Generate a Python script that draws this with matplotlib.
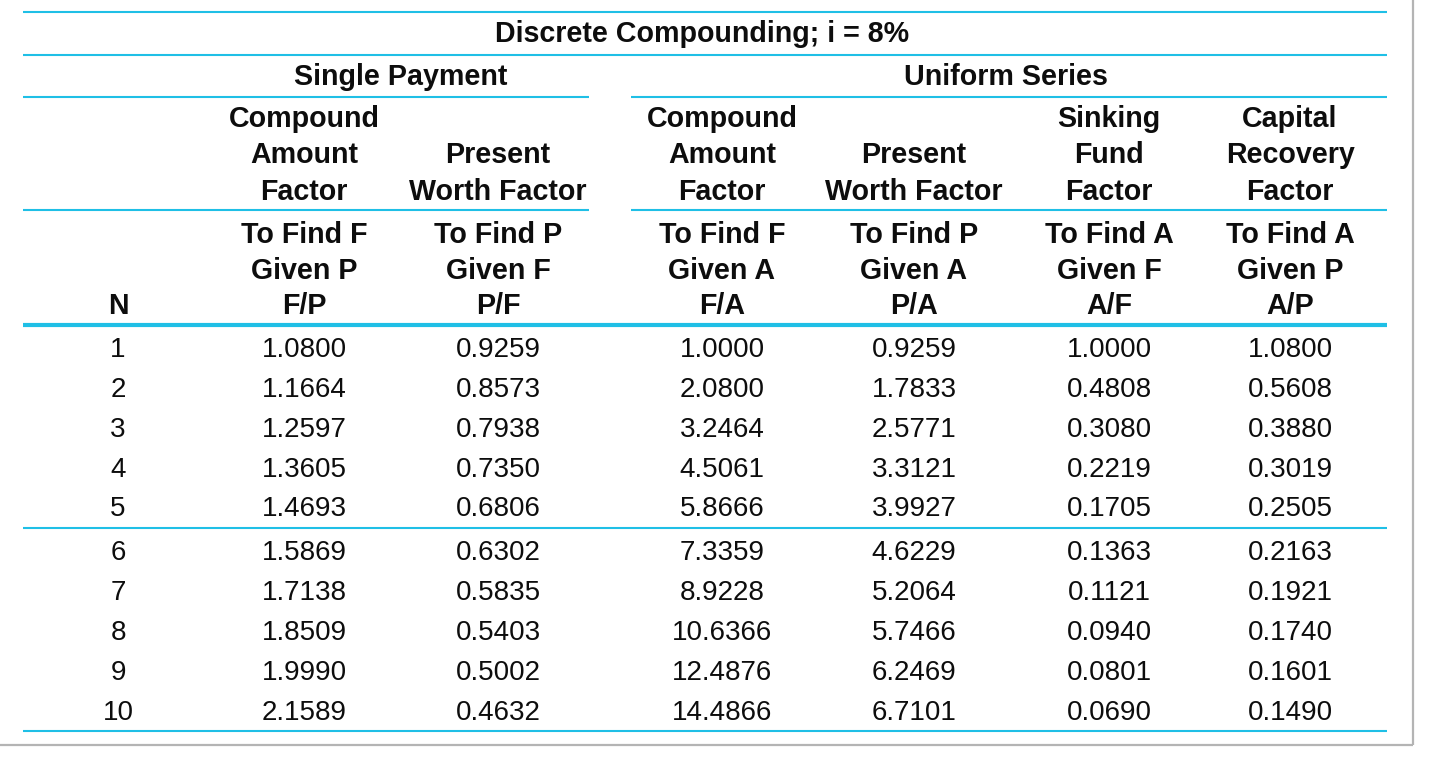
import matplotlib
matplotlib.use("Agg")
import matplotlib.pyplot as plt

title = "Discrete Compounding; i = 8%"
groups = ["Single Payment", "Uniform Series"]
factor_names = [
    ["Compound", "Amount", "Factor"],
    ["", "Present", "Worth Factor"],
    ["Compound", "Amount", "Factor"],
    ["", "Present", "Worth Factor"],
    ["Sinking", "Fund", "Factor"],
    ["Capital", "Recovery", "Factor"],
]
find_labels = [
    ["To Find F", "Given P", "F/P"],
    ["To Find P", "Given F", "P/F"],
    ["To Find F", "Given A", "F/A"],
    ["To Find P", "Given A", "P/A"],
    ["To Find A", "Given F", "A/F"],
    ["To Find A", "Given P", "A/P"],
]
N = [1, 2, 3, 4, 5, 6, 7, 8, 9, 10]
FP = ["1.0800", "1.1664", "1.2597", "1.3605", "1.4693", "1.5869", "1.7138", "1.8509", "1.9990", "2.1589"]
PF = ["0.9259", "0.8573", "0.7938", "0.7350", "0.6806", "0.6302", "0.5835", "0.5403", "0.5002", "0.4632"]
FA = ["1.0000", "2.0800", "3.2464", "4.5061", "5.8666", "7.3359", "8.9228", "10.6366", "12.4876", "14.4866"]
PA = ["0.9259", "1.7833", "2.5771", "3.3121", "3.9927", "4.6229", "5.2064", "5.7466", "6.2469", "6.7101"]
AF = ["1.0000", "0.4808", "0.3080", "0.2219", "0.1705", "0.1363", "0.1121", "0.0940", "0.0801", "0.0690"]
AP = ["1.0800", "0.5608", "0.3880", "0.3019", "0.2505", "0.2163", "0.1921", "0.1740", "0.1601", "0.1490"]

W, H = 1434, 760
fig = plt.figure(figsize=(W / 100, H / 100), dpi=100)
ax = fig.add_axes([0, 0, 1, 1])
ax.set_xlim(0, W)
ax.set_ylim(H, 0)
ax.axis("off")

FONT = ["Liberation Sans", "Arial", "DejaVu Sans"]
FS = 20
FSB = 20.6
CYAN = "#1fbfe6"
TXT = "#0d0d0d"

col_x = [118, 304, 498, 722, 914, 1109, 1290]
L, R = 23, 1387
gap = (589, 631)

def hline(y, lw=1.5, split=False):
    if split:
        ax.plot([L, gap[0]], [y, y], color=CYAN, lw=lw, solid_capstyle="butt")
        ax.plot([gap[1], R], [y, y], color=CYAN, lw=lw, solid_capstyle="butt")
    else:
        ax.plot([L, R], [y, y], color=CYAN, lw=lw, solid_capstyle="butt")

hline(12)
hline(55)
hline(97, split=True)
hline(210, split=True)
hline(325, lw=3.0)
hline(528)
hline(731)

# gray frame
ax.plot([1413, 1413], [0, 745], color="#b4b4b4", lw=1.6, solid_capstyle="butt")
ax.plot([0, 1413], [745, 745], color="#b4b4b4", lw=1.6, solid_capstyle="butt")

def t(x, y, s, bold=False):
    ax.text(x, y, s, ha="center", va="baseline",
            fontsize=FSB if bold else FS, family=FONT,
            fontweight="bold" if bold else "normal", color=TXT)

t(702, 42, title, bold=True)
t((col_x[1] + col_x[2]) / 2, 85, groups[0], bold=True)
t((col_x[3] + col_x[6]) / 2, 85, groups[1], bold=True)

hdr_base = [127, 163, 200]
for j, lines in enumerate(factor_names):
    for k, s in enumerate(lines):
        if s:
            t(col_x[j + 1], hdr_base[k], s, bold=True)

find_base = [243, 279, 314]
t(col_x[0], find_base[2], "N", bold=True)
for j, lines in enumerate(find_labels):
    for k, s in enumerate(lines):
        t(col_x[j + 1], find_base[k], s, bold=True)

row_base = [357, 397, 437, 477, 516, 560, 600, 640, 680, 720]
cols = [[str(n) for n in N], FP, PF, FA, PA, AF, AP]
for j, col in enumerate(cols):
    for i, s in enumerate(col):
        t(col_x[j], row_base[i], s)

fig.savefig("out.png", dpi=100, facecolor="white")
